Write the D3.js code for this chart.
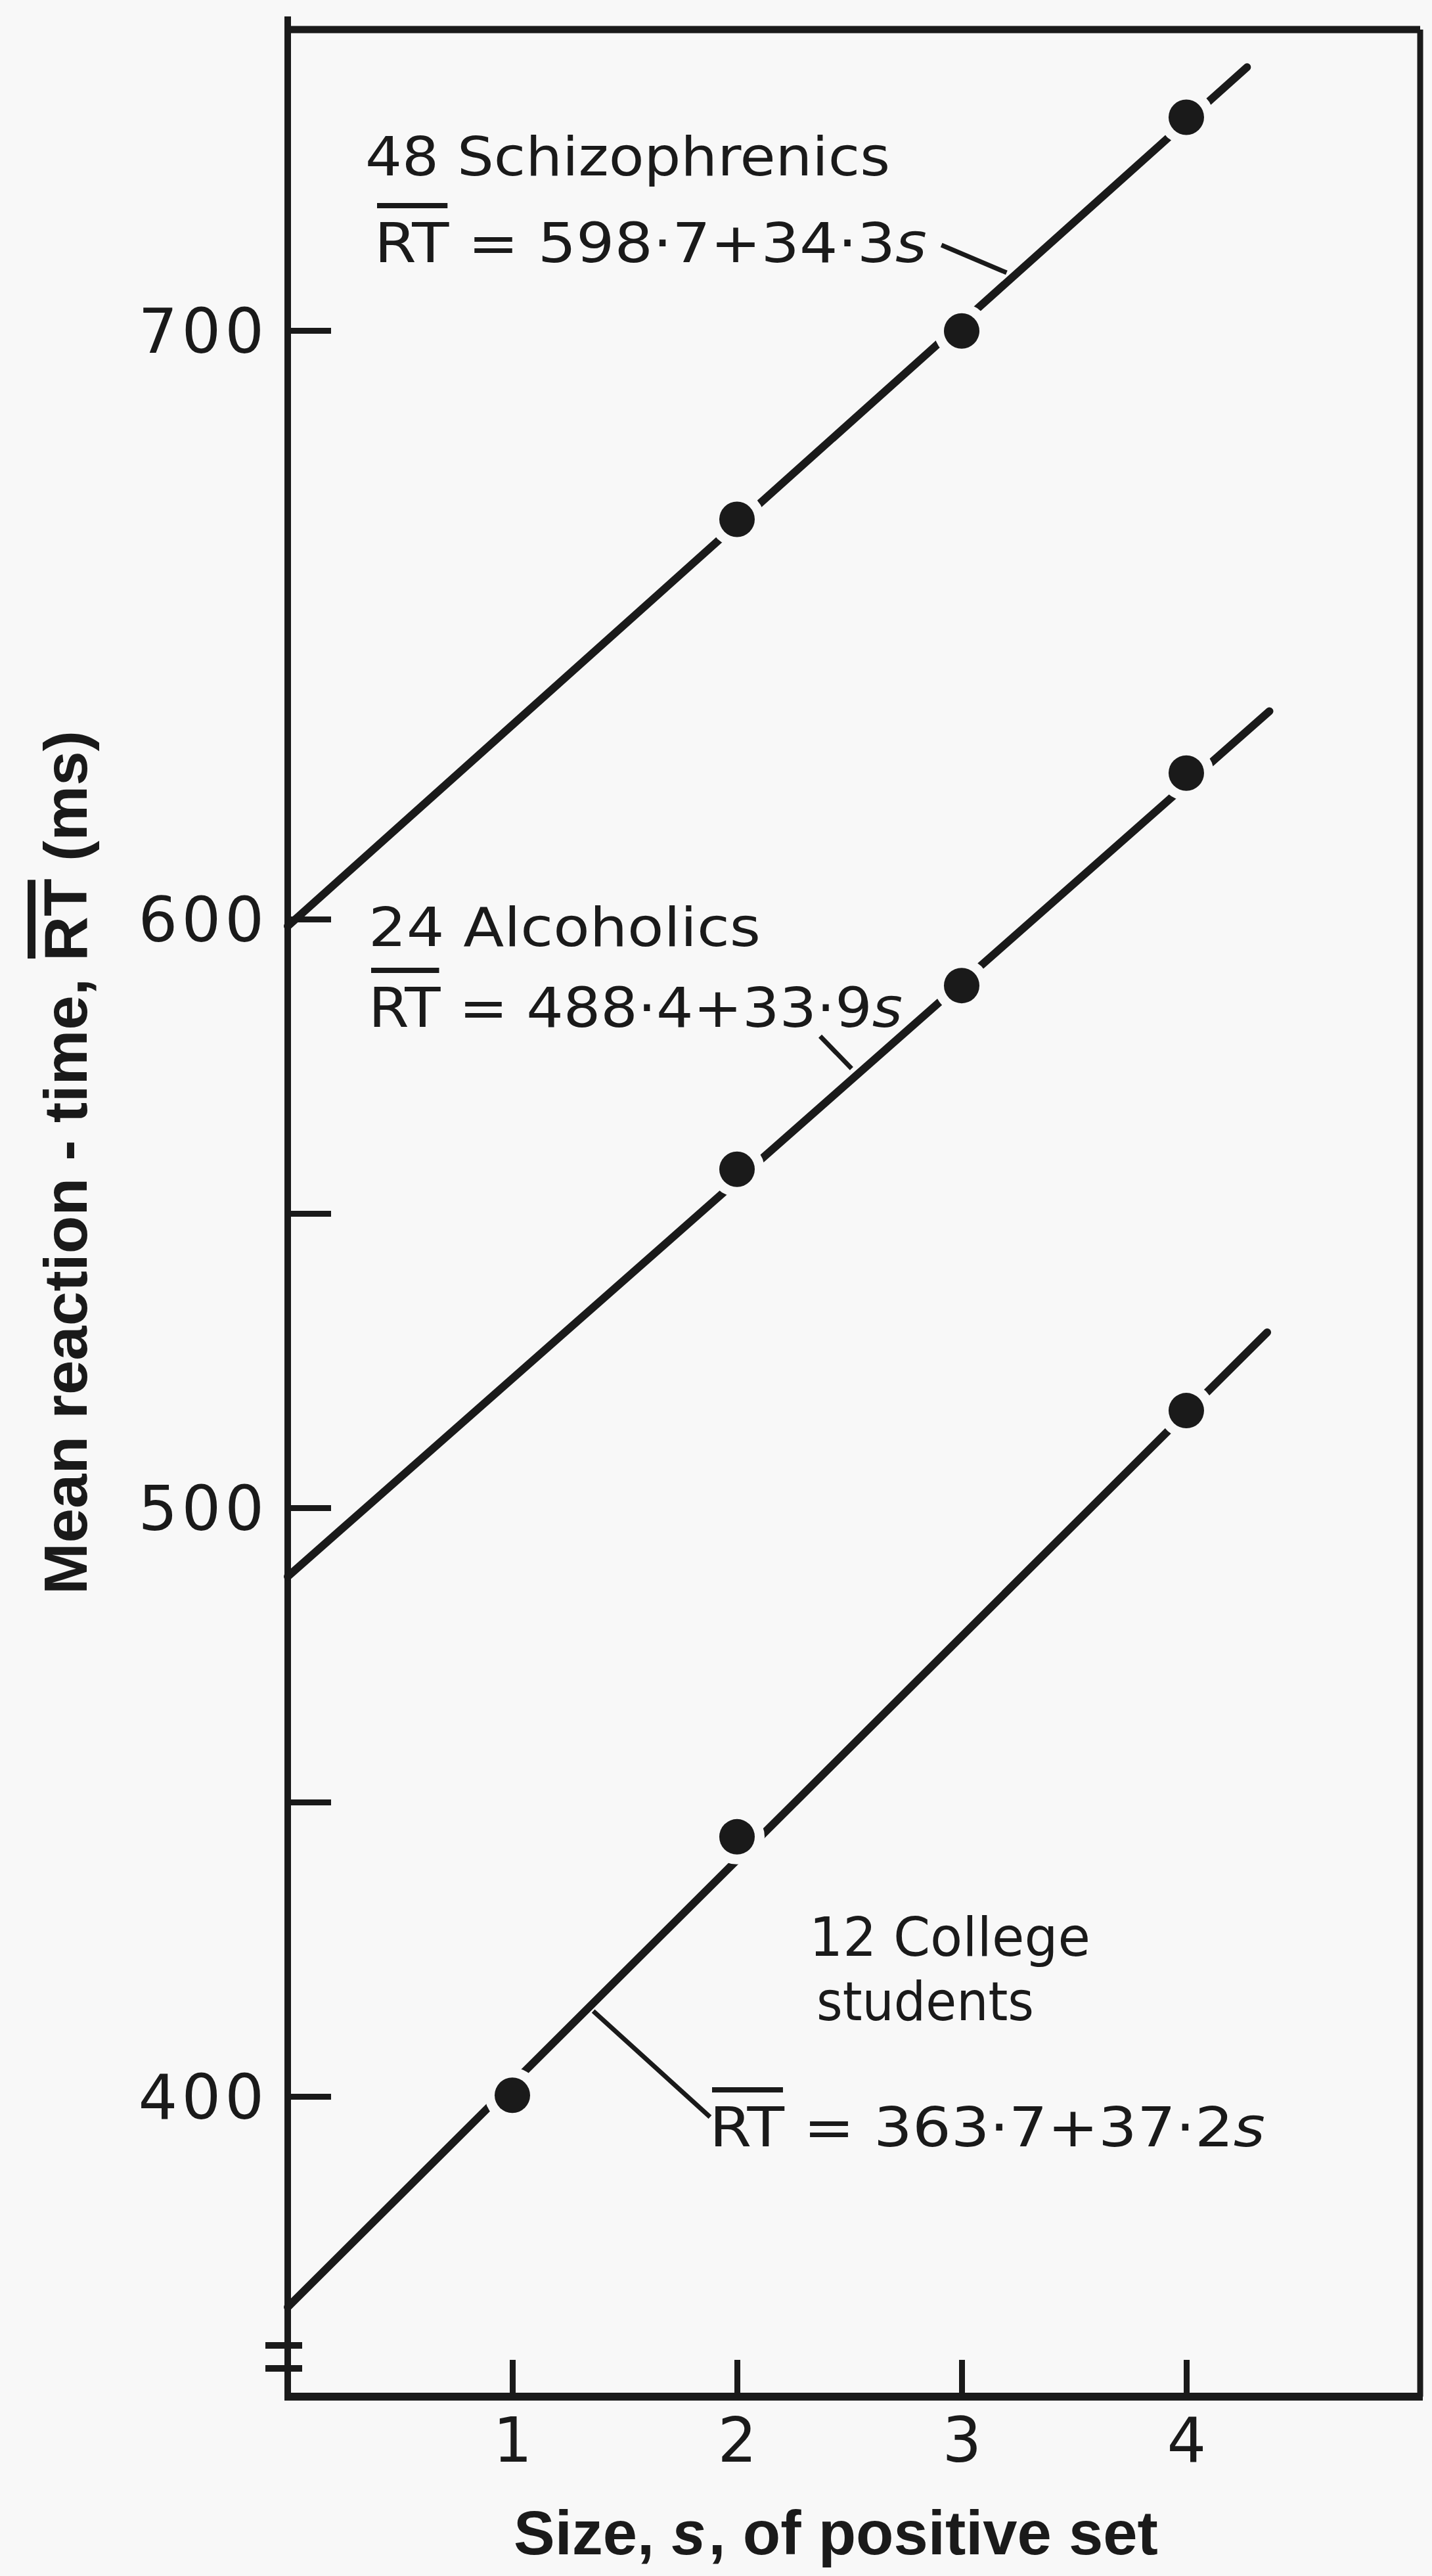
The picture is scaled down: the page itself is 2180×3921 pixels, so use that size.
<!DOCTYPE html>
<html>
<head>
    <title>Mean reaction-time vs size of positive set</title>
    <script src="https://cdn.jsdelivr.net/npm/d3@7/dist/d3.min.js"></script>
    <style>
        body { margin: 0; background: #f8f8f8; }
        text { font-family: 'DejaVu Sans', sans-serif; fill: #1a1a1a; }
        .title { font-family: 'Liberation Sans', Arial, sans-serif; font-weight: bold; }
    </style>
</head>
<body>
<svg width="2180" height="3921" id="mainsvg" style="display:block"></svg>
<script>
    // ---- data ----
    const schizoS = [2, 3, 4];
    const schizoRT = [667.9, 699.9, 736.2];
    const alcoS = [2, 3, 4];
    const alcoRT = [557.5, 588.7, 624.8];
    const collegeS = [1, 2, 4];
    const collegeRT = [400.2, 444.1, 516.5];
    // fitted lines as drawn: [s0, RT0, s1, RT1]
    const schizoLine = [0, 598.8, 4.27, 744.7];
    const alcoLine = [0, 488.3, 4.37, 635.3];
    const collegeLine = [0, 364.2, 4.36, 529.8];
    // leader lines from equation to fitted line: [s0, RT0, s1, RT1]
    const schizoLeader = [2.91, 714.5, 3.2, 709.8];
    const alcoLeader = [2.37, 580.1, 2.51, 574.6];
    const collegeLeader = [1.36, 414.5, 1.88, 396.5];
    const groupNames = ['48 Schizophrenics', '24 Alcoholics', '12 College', 'students'];
    const equations = ['598·7+34·3', '488·4+33·9', '363·7+37·2'];
    const yTicks = [400, 450, 500, 550, 600, 700];
    const yLabelled = [400, 500, 600, 700];
    const xTicks = [1, 2, 3, 4];

    const svg = d3.select('#mainsvg');
    const INK = '#1a1a1a';
    const BG = '#f8f8f8';
    const mLeft = 438, mRight = 2162, mTop = 45, mBottom = 3648;

    const x = d3.scaleLinear().domain([0, 5.041]).range([mLeft, mRight]);
    const y = d3.scaleLinear().domain([349, 751.1]).range([mBottom, mTop]);

    svg.append('rect').attr('width', 2180).attr('height', 3921).attr('fill', BG);

    // frame
    const frame = svg.append('g').attr('stroke', INK).attr('fill', 'none');
    frame.append('line').attr('x1', mLeft).attr('x2', mLeft).attr('y1', mTop - 20).attr('y2', mBottom).attr('stroke-width', 10);
    frame.append('line').attr('x1', mLeft).attr('x2', mRight).attr('y1', mTop).attr('y2', mTop).attr('stroke-width', 11);
    frame.append('line').attr('x1', mRight).attr('x2', mRight).attr('y1', mTop).attr('y2', mBottom).attr('stroke-width', 9);
    frame.append('line').attr('x1', mLeft - 5).attr('x2', mRight + 4).attr('y1', mBottom).attr('y2', mBottom).attr('stroke-width', 12);
    // axis break
    [mBottom - 78, mBottom - 43].forEach(yy => {
        frame.append('line').attr('x1', mLeft - 34).attr('x2', mLeft + 22).attr('y1', yy).attr('y2', yy).attr('stroke-width', 10);
    });

    // y axis
    const yAxis = svg.append('g').attr('transform', `translate(${mLeft},0)`)
        .call(d3.axisLeft(y).tickValues(yTicks).tickSize(-66).tickPadding(30)
            .tickFormat(d => yLabelled.includes(d) ? d : ''));
    yAxis.select('.domain').remove();
    yAxis.selectAll('line').attr('stroke', INK).attr('stroke-width', 9);
    yAxis.selectAll('text').attr('font-size', 94).attr('letter-spacing', 6)
        .style('font-family', "'DejaVu Sans', sans-serif").attr('fill', INK).attr('dy', '0.36em');

    // x axis
    const xAxis = svg.append('g').attr('transform', `translate(0,${mBottom})`)
        .call(d3.axisBottom(x).tickValues(xTicks).tickSize(-56).tickPadding(32).tickFormat(d3.format('d')));
    xAxis.select('.domain').remove();
    xAxis.selectAll('line').attr('stroke', INK).attr('stroke-width', 9);
    xAxis.selectAll('text').attr('font-size', 94)
        .style('font-family', "'DejaVu Sans', sans-serif").attr('fill', INK);

    function overline(g, t, i0, baseY, rise, w) {
        const n = t.node();
        const a = n.getExtentOfChar(i0), b = n.getExtentOfChar(i0 + 1);
        g.append('line').attr('x1', a.x + 4).attr('x2', b.x + b.width - 2)
            .attr('y1', baseY - rise).attr('y2', baseY - rise)
            .attr('stroke', INK).attr('stroke-width', w);
    }

    // axis titles
    const xt = svg.append('text').attr('class', 'title').attr('x', 782).attr('y', 3888)
        .attr('font-size', 94);
    xt.append('tspan').text('Size, ');
    xt.append('tspan').attr('font-style', 'italic').text('s');
    xt.append('tspan').attr('dx', 4).text(', of positive set');

    const ytG = svg.append('g').attr('transform', 'translate(132,1770) rotate(-90)');
    const yTitle = 'Mean reaction - time, RT (ms)';
    const yt = ytG.append('text').attr('class', 'title').attr('x', -657).attr('y', 0)
        .attr('font-size', 92)
        .attr('textLength', 1315).attr('lengthAdjust', 'spacingAndGlyphs')
        .text(yTitle);
    overline(ytG, yt, yTitle.indexOf('RT'), 0, 84, 12);

    // fitted lines, halos and dots
    const line = d3.line().x(d => x(d[0])).y(d => y(d[1]));
    const series = [
        { s: schizoS, rt: schizoRT, fit: schizoLine, lead: schizoLeader },
        { s: alcoS, rt: alcoRT, fit: alcoLine, lead: alcoLeader },
        { s: collegeS, rt: collegeRT, fit: collegeLine, lead: collegeLeader }
    ];
    const plot = svg.append('g');
    series.forEach(sr => {
        plot.append('path').attr('d', line([[sr.fit[0], sr.fit[1]], [sr.fit[2], sr.fit[3]]]))
            .attr('stroke', INK).attr('stroke-width', 12).attr('stroke-linecap', 'round').attr('fill', 'none');
        plot.append('path').attr('d', line([[sr.lead[0], sr.lead[1]], [sr.lead[2], sr.lead[3]]]))
            .attr('stroke', INK).attr('stroke-width', 7).attr('fill', 'none');
    });
    series.forEach(sr => {
        const pts = sr.s.map((s, i) => [s, sr.rt[i]]);
        plot.selectAll(null).data(pts).join('circle')
            .attr('cx', d => x(d[0])).attr('cy', d => y(d[1])).attr('r', 42).attr('fill', BG);
        plot.selectAll(null).data(pts).join('circle')
            .attr('cx', d => x(d[0])).attr('cy', d => y(d[1])).attr('r', 27).attr('fill', INK);
    });

    // annotations
    const ann = svg.append('g');
    function label(txt, px, py, len) {
        return ann.append('text').attr('x', px).attr('y', py).attr('font-size', 82)
            .attr('textLength', len).attr('lengthAdjust', 'spacingAndGlyphs').text(txt);
    }
    function equation(eq, px, py, len) {
        const t = ann.append('text').attr('x', px).attr('y', py).attr('font-size', 84)
            .attr('textLength', len).attr('lengthAdjust', 'spacingAndGlyphs');
        t.append('tspan').text('RT = ' + eq);
        t.append('tspan').attr('font-style', 'italic').text('s');
        overline(ann, t, 0, py, 86, 8);
    }

    label(groupNames[0], 556, 267, 799);
    equation(equations[0], 570, 399, 841);
    label(groupNames[1], 561, 1440, 597);
    equation(equations[1], 561, 1563, 813);
    label(groupNames[2], 1232, 2977, 428);
    label(groupNames[3], 1243, 3075, 331);
    equation(equations[2], 1080, 3267, 846);
</script>
</body>
</html>
